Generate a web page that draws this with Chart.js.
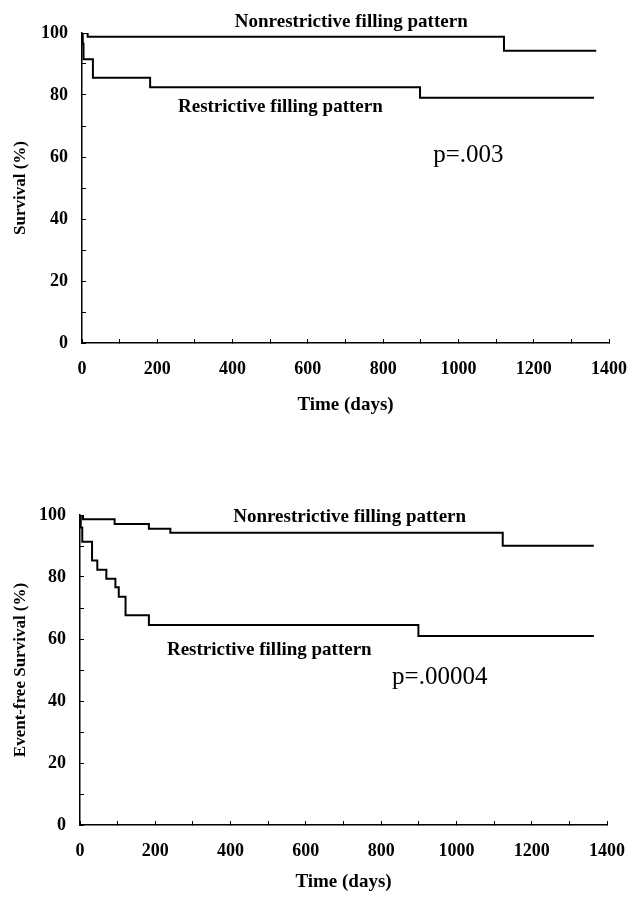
<!DOCTYPE html>
<html>
<head>
<meta charset="utf-8">
<title>Survival by filling pattern</title>
<script src="https://cdn.jsdelivr.net/npm/chart.js@4.4.1/dist/chart.umd.min.js"></script>
<style>
    html, body { margin: 0; padding: 0; background: #fff; }
    #wrap { position: relative; width: 634px; height: 898px; }
    canvas { position: absolute; left: 0; }
</style>
</head>
<body>
<div id="wrap">
    <canvas id="survival" width="634" height="449" style="top:0"></canvas>
    <canvas id="eventFree" width="634" height="449" style="top:449px"></canvas>
</div>
<script>
// -------------------------------------------------------------------------------------------------------------------------------
// Data
// -------------------------------------------------------------------------------------------------------------------------------

const survNonTimes = [0, 15, 1121, 1366];
const survNonValues = [100, 98.8, 94.3, 94.3];
const survResTimes = [0, 2, 4, 29, 181, 898, 1360];
const survResValues = [100, 96.5, 91.5, 85.6, 82.5, 79.1, 79.1];

const efsNonTimes = [0, 8, 92, 183, 240, 1123, 1365];
const efsNonValues = [100, 98.6, 97.1, 95.6, 94.3, 90.1, 90.1];
const efsResTimes = [0, 2, 6, 32, 46, 70, 94, 103, 121, 183, 899, 1365];
const efsResValues = [100, 96, 91.4, 85.3, 82.3, 79.4, 76.7, 73.6, 67.7, 64.5, 61, 61];

const xLabelStep = 200;   // labelled every 200 days, minor tick every 100
const yLabelStep = 20;    // labelled every 20 %, minor tick every 10

const serif = '"Liberation Serif", "Times New Roman", serif';

// -------------------------------------------------------------------------------------------------------------------------------
// Helpers
// -------------------------------------------------------------------------------------------------------------------------------

const toPoints = (times, values) => times.map((t, i) => ({ x: t, y: values[i] }));

const annotationText = {
    id: 'annotationText',
    afterDraw(chart) {
        const { ctx, scales: { x, y } } = chart;
        ctx.save();
        ctx.fillStyle = '#000';
        ctx.textBaseline = 'alphabetic';
        ctx.textAlign = 'left';
        for (const item of chart.$notes || []) {
            ctx.font = item.font;
            ctx.fillText(item.text, x.getPixelForValue(item.x), y.getPixelForValue(item.y));
        }
        ctx.restore();
    }
};

function line(points) {
    return {
        data: points,
        borderColor: '#000',
        borderWidth: 2,
        pointRadius: 0,
        stepped: true,
        fill: false
    };
}

function makeChart(id, opts) {
    const chart = new Chart(document.getElementById(id), {
        type: 'line',
        data: { datasets: opts.datasets },
        options: {
            responsive: false,
            animation: false,
            layout: { padding: { top: opts.top, right: opts.right, left: 0, bottom: 0 } },
            plugins: { legend: { display: false }, tooltip: { enabled: false } },
            scales: {
                x: {
                    type: 'linear',
                    min: 0,
                    max: 1400,
                    afterFit: (s) => {
                        s.height = opts.xHeight;
                        s.paddingLeft = 0;
                        s.paddingRight = 0;
                    },
                    ticks: {
                        stepSize: 100,
                        autoSkip: false,
                        maxRotation: 0,
                        padding: 20,
                        color: '#000',
                        font: { family: serif, size: 18, weight: 'bold' },
                        callback: (v) => (v % xLabelStep === 0 ? v : '')
                    },
                    grid: { drawOnChartArea: false, drawTicks: true, tickLength: -4, color: '#000', lineWidth: 1 },
                    border: { display: true, color: '#000', width: 1.5 },
                    title: {
                        display: true,
                        text: 'Time (days)',
                        color: '#000',
                        font: { family: serif, size: 19, weight: 'bold' },
                        padding: { top: 0, bottom: opts.xTitlePad }
                    }
                },
                y: {
                    min: 0,
                    max: 100,
                    afterFit: (s) => {
                        s.width = opts.yWidth;
                        s.paddingTop = 0;
                        s.paddingBottom = 0;
                    },
                    ticks: {
                        stepSize: 10,
                        autoSkip: false,
                        padding: 18,
                        color: '#000',
                        font: { family: serif, size: 18, weight: 'bold' },
                        callback: (v) => (v % yLabelStep === 0 ? v : '')
                    },
                    grid: { drawOnChartArea: false, drawTicks: true, tickLength: -4, color: '#000', lineWidth: 1 },
                    border: { display: true, color: '#000', width: 1.5 },
                    title: {
                        display: true,
                        text: opts.yTitle,
                        color: '#000',
                        font: { family: serif, size: 17, weight: 'bold' },
                        padding: { top: 10, bottom: 0 }
                    }
                }
            }
        },
        plugins: [annotationText]
    });
    chart.$notes = opts.notes;
    chart.draw();
    return chart;
}

// -------------------------------------------------------------------------------------------------------------------------------
// Charts
// -------------------------------------------------------------------------------------------------------------------------------

const bold19 = 'bold 19px ' + serif;
const plain25 = '25px ' + serif;

makeChart('survival', {
    datasets: [line(toPoints(survNonTimes, survNonValues)), line(toPoints(survResTimes, survResValues))],
    yTitle: 'Survival (%)',
    top: 33,
    right: 25,
    yWidth: 82,
    xHeight: 106,
    xTitlePad: 33,
    notes: [
        { text: 'Nonrestrictive filling pattern', x: 406, y: 101.9, font: bold19 },
        { text: 'Restrictive filling pattern', x: 255, y: 74.5, font: bold19 },
        { text: 'p=.003', x: 933, y: 58.4, font: plain25 }
    ]
});

makeChart('eventFree', {
    datasets: [line(toPoints(efsNonTimes, efsNonValues)), line(toPoints(efsResTimes, efsResValues))],
    yTitle: 'Event-free Survival (%)',
    top: 66,
    right: 27,
    yWidth: 80,
    xHeight: 73,
    xTitlePad: 5,
    notes: [
        { text: 'Nonrestrictive filling pattern', x: 407, y: 97.7, font: bold19 },
        { text: 'Restrictive filling pattern', x: 231, y: 54.8, font: bold19 },
        { text: 'p=.00004', x: 829, y: 45.5, font: plain25 }
    ]
});
</script>
</body>
</html>
